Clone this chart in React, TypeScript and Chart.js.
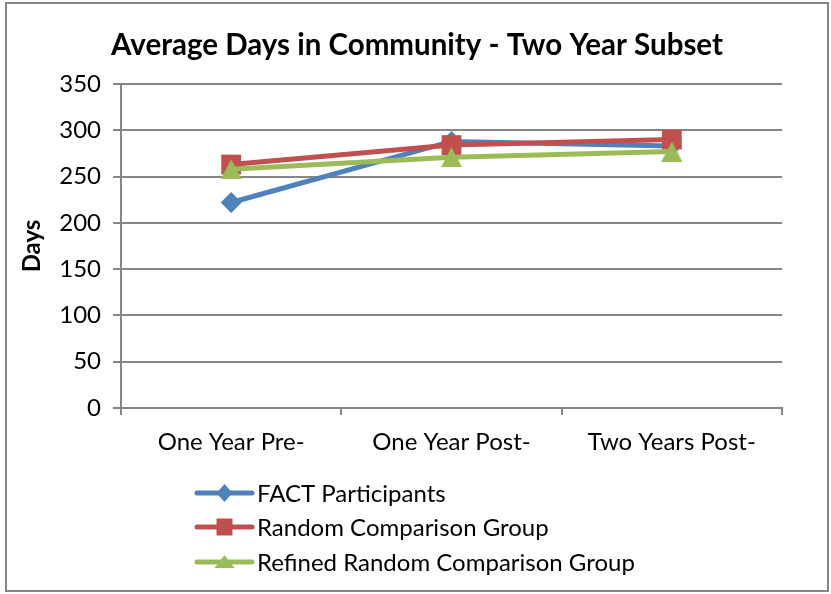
import React, { useEffect, useRef } from "react";
import { Chart, registerables } from "chart.js";

Chart.register(...registerables);

const categories = ["One Year Pre-", "One Year Post-", "Two Years Post-"];
const factParticipants = [222, 288, 283];
const randomComparison = [263, 284, 290];
const refinedRandomComparison = [258, 271, 277];
const yTicks = [0, 50, 100, 150, 200, 250, 300, 350];

const TITLE = "Average Days in Community - Two Year Subset";
const FONT = "Lato, 'Noto Sans', sans-serif";
const GRID = "#868686";
const BLUE = "#4F81BD";
const RED = "#C0504D";
const GREEN = "#9BBB59";

// Triangle marker centred on its bounding box
function triangleMarker(color: string, w: number, h: number) {
  const c = document.createElement("canvas");
  c.width = w;
  c.height = h;
  const g = c.getContext("2d")!;
  g.fillStyle = color;
  g.beginPath();
  g.moveTo(w / 2, 0);
  g.lineTo(w, h);
  g.lineTo(0, h);
  g.closePath();
  g.fill();
  return c;
}

// Frame around the whole chart, plus the centred title
const framePlugin = {
  id: "frame",
  beforeDraw(chart: any) {
    const ctx = chart.ctx;
    ctx.save();
    ctx.fillStyle = "#ffffff";
    ctx.fillRect(0, 0, chart.width, chart.height);
    ctx.strokeStyle = GRID;
    ctx.lineWidth = 2;
    ctx.strokeRect(6, 3, 822, 588);
    ctx.fillStyle = "#000000";
    ctx.font = `bold 29.5px ${FONT}`;
    ctx.textAlign = "center";
    ctx.textBaseline = "middle";
    ctx.fillText(TITLE, 417, 45);
    ctx.restore();
  },
};

// Stacked legend below the axis: line sample with marker, then label
const stackedLegend = {
  id: "stackedLegend",
  afterDraw(chart: any) {
    const ctx = chart.ctx;
    const x0 = 197;
    const x1 = 252;
    const rows = [493, 527, 562];
    ctx.save();
    chart.data.datasets.forEach((ds: any, i: number) => {
      const y = rows[i];
      ctx.strokeStyle = ds.borderColor;
      ctx.lineWidth = 5;
      ctx.lineCap = "round";
      ctx.beginPath();
      ctx.moveTo(x0, y);
      ctx.lineTo(x1, y);
      ctx.stroke();
      const cx = (x0 + x1) / 2;
      ctx.fillStyle = ds.borderColor;
      ctx.beginPath();
      if (i === 0) {
        ctx.moveTo(cx, y - 9);
        ctx.lineTo(cx + 8, y);
        ctx.lineTo(cx, y + 9);
        ctx.lineTo(cx - 8, y);
        ctx.closePath();
      } else if (i === 1) {
        ctx.rect(cx - 8, y - 8.5, 16, 17);
      } else {
        ctx.moveTo(cx, y - 7);
        ctx.lineTo(cx + 10, y + 6);
        ctx.lineTo(cx - 10, y + 6);
        ctx.closePath();
      }
      ctx.fill();
      ctx.fillStyle = "#000000";
      ctx.font = `24px ${FONT}`;
      ctx.textBaseline = "middle";
      ctx.textAlign = "left";
      ctx.fillText(ds.label, 257, y + 1);
    });
    ctx.restore();
  },
};

export default function App() {
  const ref = useRef<HTMLCanvasElement>(null);

  useEffect(() => {
    document.body.style.margin = "0";
    const canvas = ref.current;
    if (!canvas) return;
    const chart = new Chart(canvas, {
      type: "line",
      data: {
        labels: categories,
        datasets: [
          {
            label: "FACT Participants",
            data: factParticipants,
            borderColor: BLUE,
            backgroundColor: BLUE,
            pointBackgroundColor: BLUE,
            pointBorderColor: BLUE,
            pointStyle: "rectRot",
            pointRadius: 10.5,
            pointBorderWidth: 0,
            borderWidth: 5,
            order: 3,
          },
          {
            label: "Random Comparison Group",
            data: randomComparison,
            borderColor: RED,
            backgroundColor: RED,
            pointBackgroundColor: RED,
            pointBorderColor: RED,
            pointStyle: "rect",
            pointRadius: 14,
            pointBorderWidth: 0,
            borderWidth: 5,
            order: 2,
          },
          {
            label: "Refined Random Comparison Group",
            data: refinedRandomComparison,
            borderColor: GREEN,
            backgroundColor: GREEN,
            pointBackgroundColor: GREEN,
            pointBorderColor: GREEN,
            pointStyle: triangleMarker(GREEN, 21, 20),
            pointRadius: 10,
            borderWidth: 5,
            order: 1,
          },
        ],
      },
      options: {
        responsive: false,
        animation: false,
        layout: { padding: { left: 8, right: 49, top: 84, bottom: 120 } },
        plugins: {
          legend: { display: false },
          tooltip: { enabled: false },
          title: { display: false },
        },
        scales: {
          x: {
            offset: true,
            border: { color: GRID, width: 2 },
            grid: {
              offset: true,
              drawOnChartArea: false,
              drawTicks: true,
              tickLength: 7,
              color: GRID,
              lineWidth: 2,
            },
            ticks: {
              color: "#000000",
              font: { family: FONT, size: 24 },
              padding: 13,
              maxRotation: 0,
            },
            afterFit(scale: any) {
              scale.height = 66;
            },
          },
          y: {
            min: 0,
            max: 350,
            afterBuildTicks(scale: any) {
              scale.ticks = yTicks.map((v) => ({ value: v }));
            },
            border: { color: GRID, width: 2 },
            grid: {
              color: GRID,
              lineWidth: 2,
              tickLength: 8,
            },
            ticks: {
              color: "#000000",
              font: { family: FONT, size: 24 },
              padding: 12,
            },
            title: {
              display: true,
              text: "Days",
              color: "#000000",
              font: { family: FONT, size: 24, weight: "bold" },
              padding: { top: 10, bottom: 0 },
            },
            afterFit(scale: any) {
              scale.width = 113;
            },
          },
        },
      },
      plugins: [framePlugin, stackedLegend],
    });
    return () => chart.destroy();
  }, []);

  return (
    <div style={{ position: "fixed", left: 0, top: 0 }}>
      <canvas ref={ref} width={831} height={594} />
    </div>
  );
}
